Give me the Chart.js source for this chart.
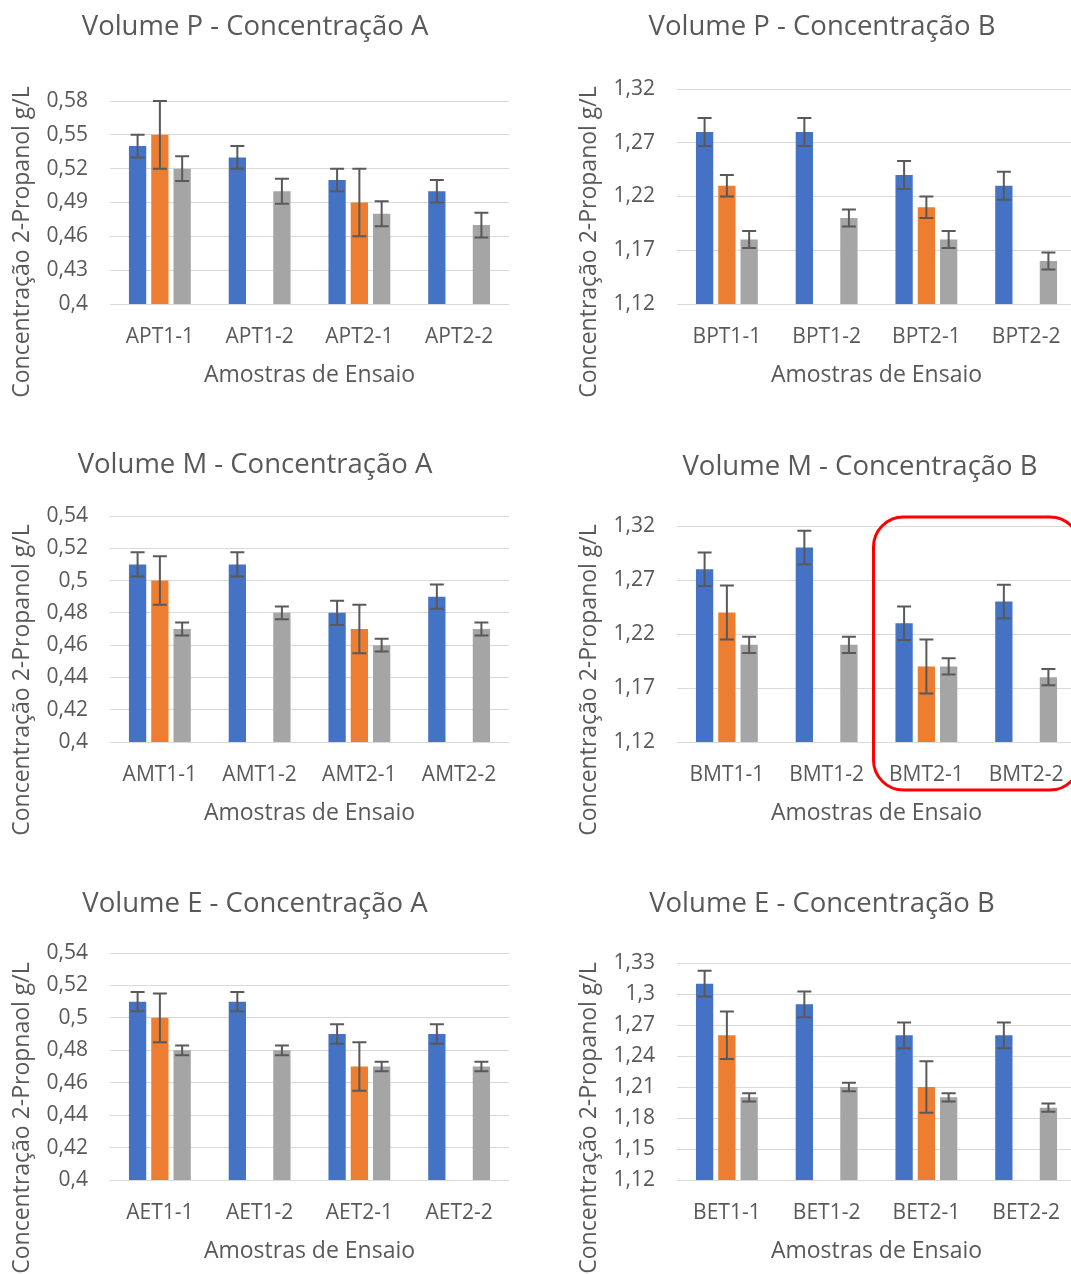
<!DOCTYPE html>
<html>
<head>
<meta charset="utf-8">
<script src="https://cdn.jsdelivr.net/npm/chart.js@4.4.1/dist/chart.umd.min.js"></script>
<style>
    html, body { margin: 0; padding: 0; background: #fff; }
    body { width: 1071px; height: 1274px; overflow: hidden; position: relative; }
    .cell { position: absolute; width: 535px; height: 438px; }
</style>
</head>
<body>
<div class="cell" style="left:0;top:0"><canvas id="chartPA" width="535" height="438"></canvas></div>
<div class="cell" style="left:567px;top:0"><canvas id="chartPB" width="535" height="438"></canvas></div>
<div class="cell" style="left:0;top:438px"><canvas id="chartMA" width="535" height="438"></canvas></div>
<div class="cell" style="left:567px;top:438px"><canvas id="chartMB" width="535" height="438"></canvas></div>
<div class="cell" style="left:0;top:876px"><canvas id="chartEA" width="535" height="438"></canvas></div>
<div class="cell" style="left:567px;top:876px"><canvas id="chartEB" width="535" height="438"></canvas></div>
<script>
// Volume P - Concentração A
const labelsPA = ['APT1-1', 'APT1-2', 'APT2-1', 'APT2-2'];
const bluePA = [0.54, 0.53, 0.51, 0.50];
const orangePA = [0.55, null, 0.49, null];
const grayPA = [0.52, 0.50, 0.48, 0.47];
const blueErrPA = [0.01, 0.01, 0.01, 0.01];
const orangeErrPA = [0.03, null, 0.03, null];
const grayErrPA = [0.011, 0.011, 0.011, 0.011];
const ticksPA = [0.4, 0.43, 0.46, 0.49, 0.52, 0.55, 0.58];

// Volume P - Concentração B
const labelsPB = ['BPT1-1', 'BPT1-2', 'BPT2-1', 'BPT2-2'];
const bluePB = [1.28, 1.28, 1.24, 1.23];
const orangePB = [1.23, null, 1.21, null];
const grayPB = [1.18, 1.20, 1.18, 1.16];
const blueErrPB = [0.013, 0.013, 0.013, 0.013];
const orangeErrPB = [0.01, null, 0.01, null];
const grayErrPB = [0.008, 0.008, 0.008, 0.008];
const ticksPB = [1.12, 1.17, 1.22, 1.27, 1.32];

// Volume M - Concentração A
const labelsMA = ['AMT1-1', 'AMT1-2', 'AMT2-1', 'AMT2-2'];
const blueMA = [0.51, 0.51, 0.48, 0.49];
const orangeMA = [0.50, null, 0.47, null];
const grayMA = [0.47, 0.48, 0.46, 0.47];
const blueErrMA = [0.0075, 0.0075, 0.0075, 0.0075];
const orangeErrMA = [0.015, null, 0.015, null];
const grayErrMA = [0.004, 0.004, 0.004, 0.004];
const ticksMA = [0.4, 0.42, 0.44, 0.46, 0.48, 0.5, 0.52, 0.54];

// Volume M - Concentração B
const labelsMB = ['BMT1-1', 'BMT1-2', 'BMT2-1', 'BMT2-2'];
const blueMB = [1.28, 1.30, 1.23, 1.25];
const orangeMB = [1.24, null, 1.19, null];
const grayMB = [1.21, 1.21, 1.19, 1.18];
const blueErrMB = [0.0155, 0.0155, 0.0155, 0.0155];
const orangeErrMB = [0.025, null, 0.025, null];
const grayErrMB = [0.0075, 0.0075, 0.0075, 0.0075];
const ticksMB = [1.12, 1.17, 1.22, 1.27, 1.32];

// Volume E - Concentração A
const labelsEA = ['AET1-1', 'AET1-2', 'AET2-1', 'AET2-2'];
const blueEA = [0.51, 0.51, 0.49, 0.49];
const orangeEA = [0.50, null, 0.47, null];
const grayEA = [0.48, 0.48, 0.47, 0.47];
const blueErrEA = [0.006, 0.006, 0.006, 0.006];
const orangeErrEA = [0.015, null, 0.015, null];
const grayErrEA = [0.003, 0.003, 0.003, 0.003];
const ticksEA = [0.4, 0.42, 0.44, 0.46, 0.48, 0.5, 0.52, 0.54];

// Volume E - Concentração B
const labelsEB = ['BET1-1', 'BET1-2', 'BET2-1', 'BET2-2'];
const blueEB = [1.31, 1.29, 1.26, 1.26];
const orangeEB = [1.26, null, 1.21, null];
const grayEB = [1.20, 1.21, 1.20, 1.19];
const blueErrEB = [0.0125, 0.0125, 0.0125, 0.0125];
const orangeErrEB = [0.023, null, 0.025, null];
const grayErrEB = [0.004, 0.004, 0.004, 0.004];
const ticksEB = [1.12, 1.15, 1.18, 1.21, 1.24, 1.27, 1.3, 1.33];

const TEXT = '#595959';
const FONT = '"Open Sans", "Noto Sans", sans-serif';

// error bars drawn with the y scale of each chart
const errorBars = {
    id: 'errorBars',
    afterDatasetsDraw(chart) {
        const ctx = chart.ctx;
        const yScale = chart.scales.y;
        ctx.save();
        ctx.strokeStyle = '#595959';
        ctx.lineWidth = 2;
        chart.data.datasets.forEach((ds, i) => {
            const meta = chart.getDatasetMeta(i);
            meta.data.forEach((bar, j) => {
                const v = ds.data[j];
                const e = ds.errors ? ds.errors[j] : null;
                if (v == null || e == null) return;
                const top = yScale.getPixelForValue(v + e);
                const bot = yScale.getPixelForValue(v - e);
                ctx.beginPath();
                ctx.moveTo(bar.x, top);
                ctx.lineTo(bar.x, bot);
                ctx.moveTo(bar.x - 7, top);
                ctx.lineTo(bar.x + 7, top);
                ctx.moveTo(bar.x - 7, bot);
                ctx.lineTo(bar.x + 7, bot);
                ctx.stroke();
            });
        });
        ctx.restore();
    }
};

// chart title + axis titles, placed like the Excel original
const excelTexts = {
    id: 'excelTexts',
    afterDraw(chart, args, opts) {
        const ctx = chart.ctx;
        const area = chart.chartArea;
        ctx.save();
        ctx.fillStyle = TEXT;
        ctx.textAlign = 'center';
        ctx.textBaseline = 'middle';
        ctx.font = '27.5px ' + FONT;
        ctx.fillText(opts.title, opts.titleX, opts.titleY);
        ctx.font = '23px ' + FONT;
        ctx.fillText('Amostras de Ensaio', (area.left + area.right) / 2, 375);
        ctx.translate(22, 242);
        ctx.rotate(-Math.PI / 2);
        ctx.fillText(opts.yTitle, 0, 0);
        ctx.restore();
    }
};

// red rounded frame around the T2 samples
const highlightBox = {
    id: 'highlightBox',
    afterDraw(chart, args, opts) {
        if (!opts.show) return;
        const ctx = chart.ctx;
        const area = chart.chartArea;
        const x = chart.scales.x;
        const left = (x.getPixelForValue(1) + x.getPixelForValue(2)) / 2 - 3;
        const right = area.right + 4;
        const top = area.top - 9;
        const bottom = area.bottom + 48;
        ctx.save();
        ctx.strokeStyle = '#ff0000';
        ctx.lineWidth = 3;
        ctx.beginPath();
        ctx.roundRect(left, top, right - left, bottom - top, 30);
        ctx.stroke();
        ctx.restore();
    }
};

function makeChart(id, labels, blue, orange, gray, blueErr, orangeErr, grayErr, ticks, title, yTitle, plotTop, titleX, titleY, showBox) {
    const ctx = document.getElementById(id).getContext('2d');
    return new Chart(ctx, {
        type: 'bar',
        data: {
            labels: labels,
            datasets: [
                { label: 'Série 1', data: blue, errors: blueErr, backgroundColor: '#4472C4' },
                { label: 'Série 2', data: orange, errors: orangeErr, backgroundColor: '#ED7D31' },
                { label: 'Série 3', data: gray, errors: grayErr, backgroundColor: '#A5A5A5' }
            ]
        },
        options: {
            responsive: false,
            animation: false,
            layout: { padding: { left: 0, right: 26, top: plotTop, bottom: 0 } },
            datasets: { bar: { categoryPercentage: 0.67, barPercentage: 0.776 } },
            plugins: {
                legend: { display: false },
                title: { display: false },
                tooltip: { enabled: false },
                excelTexts: { title: title, yTitle: yTitle, titleX: titleX, titleY: titleY },
                highlightBox: { show: showBox }
            },
            scales: {
                x: {
                    grid: { display: false },
                    border: { display: false },
                    ticks: { color: TEXT, font: { family: FONT, size: 21 }, padding: 12, maxRotation: 0 },
                    afterFit: s => { s.height = 134; }
                },
                y: {
                    min: ticks[0],
                    max: ticks[ticks.length - 1],
                    grid: { color: '#D9D9D9', lineWidth: 1, drawTicks: false },
                    border: { display: false },
                    ticks: {
                        color: TEXT,
                        font: { family: FONT, size: 21 },
                        padding: 22,
                        callback: v => String(parseFloat(v.toFixed(2))).replace('.', ',')
                    },
                    afterBuildTicks: s => { s.ticks = ticks.map(v => ({ value: v })); },
                    afterFit: s => { s.width = 110; }
                }
            }
        },
        plugins: [errorBars, excelTexts, highlightBox]
    });
}

const yTitleStd = 'Concentração 2-Propanol g/L';

makeChart('chartPA', labelsPA, bluePA, orangePA, grayPA, blueErrPA, orangeErrPA, grayErrPA, ticksPA,
    'Volume P - Concentração A', yTitleStd, 101, 255, 27, false);
makeChart('chartPB', labelsPB, bluePB, orangePB, grayPB, blueErrPB, orangeErrPB, grayErrPB, ticksPB,
    'Volume P - Concentração B', yTitleStd, 89, 255, 27, false);
makeChart('chartMA', labelsMA, blueMA, orangeMA, grayMA, blueErrMA, orangeErrMA, grayErrMA, ticksMA,
    'Volume M - Concentração A', yTitleStd, 78, 255, 27, false);
makeChart('chartMB', labelsMB, blueMB, orangeMB, grayMB, blueErrMB, orangeErrMB, grayErrMB, ticksMB,
    'Volume M - Concentração B', yTitleStd, 88, 293, 29, true);
makeChart('chartEA', labelsEA, blueEA, orangeEA, grayEA, blueErrEA, orangeErrEA, grayErrEA, ticksEA,
    'Volume E - Concentração A', 'Concentração 2-Propnaol g/L', 77, 255, 28, false);
makeChart('chartEB', labelsEB, blueEB, orangeEB, grayEB, blueErrEB, orangeErrEB, grayErrEB, ticksEB,
    'Volume E - Concentração B', yTitleStd, 87, 255, 28, false);
</script>
</body>
</html>
